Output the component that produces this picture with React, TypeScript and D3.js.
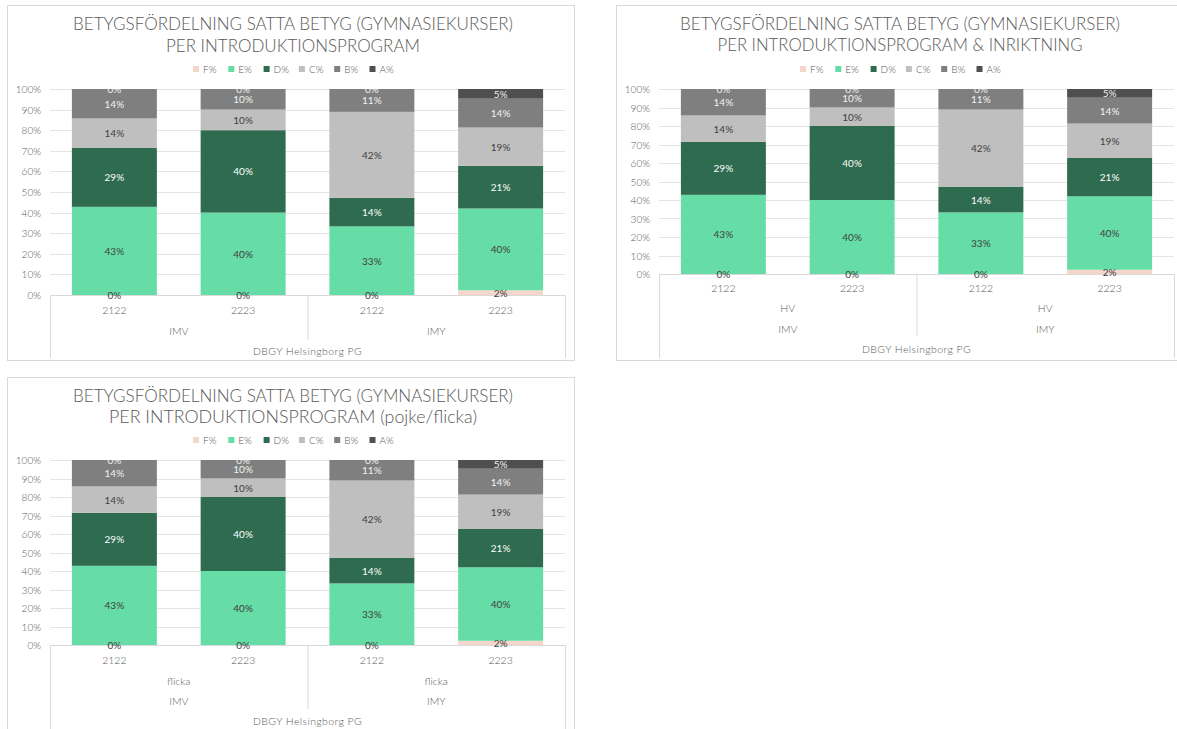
import React from "react";
import * as d3 from "d3";

const grades = ["F%", "E%", "D%", "C%", "B%", "A%"];
const gradeColors = ["#f4d6cb", "#66dda6", "#2e6b4f", "#bfbfbf", "#7f7f7f", "#4f4f4f"];
const labelColors = ["#404040", "#404040", "#ffffff", "#404040", "#f2f2f2", "#f2f2f2"];

const years = ["2122", "2223", "2122", "2223"];
const programs = ["IMV", "IMY"];
const school = "DBGY Helsingborg PG";

const fValues = [0, 0, 0, 0.023];
const eValues = [0.428, 0.4, 0.333, 0.397];
const dValues = [0.286, 0.4, 0.139, 0.207];
const cValues = [0.143, 0.1, 0.417, 0.186];
const bValues = [0.143, 0.1, 0.111, 0.14];
const aValues = [0, 0, 0, 0.047];

const titleLine1 = "BETYGSFÖRDELNING SATTA BETYG (GYMNASIEKURSER)";
const subtitles = [
  "PER INTRODUKTIONSPROGRAM",
  "PER INTRODUKTIONSPROGRAM & INRIKTNING",
  "PER INTRODUKTIONSPROGRAM (pojke/flicka)",
];
const midLabels = [null, "HV", "flicka"];

const FONT = "Lato, 'Open Sans', sans-serif";
const TXT = "#595959";
const W8 = 300;

type Cfg = {
  id: string;
  panel: { x: number; y: number; w: number; h: number };
  plot: { l: number; r: number; t: number; b: number };
  cx: number;
  titleY: [number, number];
  titleW: [number, number];
  subtitle: string;
  mid: string | null;
  legendY: number;
  yearY: number;
  midY: number;
  progY: number;
  schoolY: number;
  sepBottom: number;
  axisBottom: number;
};

const rows = years.map((yr, i) => ({
  idx: String(i),
  "F%": fValues[i],
  "E%": eValues[i],
  "D%": dValues[i],
  "C%": cValues[i],
  "B%": bValues[i],
  "A%": aValues[i],
}));

const fmt = d3.format(".0%");

function Chart({ c }: { c: Cfg }) {
  const { plot } = c;
  const x = d3
    .scaleBand<string>()
    .domain(rows.map((r) => r.idx))
    .range([plot.l, plot.r])
    .paddingInner(0.34)
    .paddingOuter(0.17);
  const y = d3.scaleLinear().domain([0, 1]).range([plot.b, plot.t]);
  const series = d3.stack<any>().keys(grades)(rows as any);
  const ticks = y.ticks(10);
  const W = plot.r - plot.l;
  const grpX = programs.map((_, g) => plot.l + (W / 2) * g + W / 4);
  const legendStart = c.cx - 100;
  const common = { fontFamily: FONT, fontWeight: W8, fill: TXT } as any;
  return (
    <g>
      <rect x={c.panel.x + 0.5} y={c.panel.y + 0.5} width={c.panel.w} height={c.panel.h} fill="#fff" stroke="#d9d9d9" />
      <text x={c.cx} y={c.titleY[0]} textAnchor="middle" dominantBaseline="central" fontSize={17} {...common} textLength={c.titleW[0]} lengthAdjust="spacingAndGlyphs">
        {titleLine1}
      </text>
      <text x={c.cx} y={c.titleY[1]} textAnchor="middle" dominantBaseline="central" fontSize={17} {...common} textLength={c.titleW[1]} lengthAdjust="spacingAndGlyphs">
        {c.subtitle}
      </text>
      {grades.map((g, i) => (
        <g key={g}>
          <rect x={legendStart + i * 35.3} y={c.legendY - 3} width={6} height={6} fill={gradeColors[i]} />
          <text x={legendStart + i * 35.3 + 10} y={c.legendY} dominantBaseline="central" fontSize={10} {...common}>
            {g}
          </text>
        </g>
      ))}
      {ticks.map((t) => (
        <g key={t}>
          <line x1={plot.l} x2={plot.r} y1={Math.round(y(t)) + 0.5} y2={Math.round(y(t)) + 0.5} stroke={t === 0 ? "#d9d9d9" : "#e4e4e4"} />
          <text x={plot.l - 9} y={y(t)} textAnchor="end" dominantBaseline="central" fontSize={10} {...common}>
            {fmt(t)}
          </text>
        </g>
      ))}
      {series.map((s, si) =>
        s.map((d: any, j: number) => (
          <rect
            key={`${si}-${j}`}
            x={x(rows[j].idx)}
            y={y(d[1])}
            width={x.bandwidth()}
            height={Math.max(0, y(d[0]) - y(d[1]))}
            fill={gradeColors[si]}
          />
        ))
      )}
      <line x1={plot.l + 0.5} x2={plot.l + 0.5} y1={plot.b} y2={c.axisBottom} stroke="#d9d9d9" />
      <line x1={plot.r + 0.5} x2={plot.r + 0.5} y1={plot.b} y2={c.axisBottom} stroke="#d9d9d9" />
      <line x1={plot.l + W / 2 + 0.5} x2={plot.l + W / 2 + 0.5} y1={plot.b} y2={c.sepBottom} stroke="#d9d9d9" />
      <clipPath id={`clip-${c.id}`}>
        <rect x={plot.l} y={plot.t} width={W} height={plot.b - plot.t + 30} />
      </clipPath>
      <g clipPath={`url(#clip-${c.id})`}>
        {series.map((s, si) =>
          s.map((d: any, j: number) => (
            <text
              key={`l${si}-${j}`}
              x={(x(rows[j].idx) as number) + x.bandwidth() / 2}
              y={y((d[0] + d[1]) / 2)}
              textAnchor="middle"
              dominantBaseline="central"
              fontSize={10}
              fontFamily={FONT}
              fontWeight={400}
              fill={labelColors[si]}
            >
              {fmt(d[1] - d[0])}
            </text>
          ))
        )}
      </g>
      {rows.map((r, j) => (
        <text key={`yr${j}`} x={(x(r.idx) as number) + x.bandwidth() / 2} y={c.yearY} textAnchor="middle" dominantBaseline="central" fontSize={10.5} {...common}>
          {years[j]}
        </text>
      ))}
      {c.mid &&
        grpX.map((gx, g) => (
          <text key={`mid${g}`} x={gx} y={c.midY} textAnchor="middle" dominantBaseline="central" fontSize={10.5} {...common}>
            {c.mid}
          </text>
        ))}
      {grpX.map((gx, g) => (
        <text key={`pg${g}`} x={gx} y={c.progY} textAnchor="middle" dominantBaseline="central" fontSize={10.5} {...common}>
          {programs[g]}
        </text>
      ))}
      <text x={plot.l + W / 2} y={c.schoolY} textAnchor="middle" dominantBaseline="central" fontSize={10.5} {...common} letterSpacing={0.4}>
        {school}
      </text>
    </g>
  );
}

const configs: Cfg[] = [
  {
    id: "c1",
    panel: { x: 7, y: 5, w: 567, h: 355 },
    plot: { l: 50, r: 565, t: 89, b: 295 },
    cx: 293,
    titleY: [23, 45],
    titleW: [440, 254],
    subtitle: subtitles[0],
    mid: midLabels[0],
    legendY: 69,
    yearY: 310,
    midY: 0,
    progY: 331,
    schoolY: 351,
    sepBottom: 340,
    axisBottom: 358,
  },
  {
    id: "c2",
    panel: { x: 616, y: 5, w: 580, h: 355 },
    plot: { l: 659, r: 1174, t: 89, b: 274 },
    cx: 900,
    titleY: [23, 44],
    titleW: [440, 365],
    subtitle: subtitles[1],
    mid: midLabels[1],
    legendY: 69,
    yearY: 288,
    midY: 308,
    progY: 329,
    schoolY: 349,
    sepBottom: 336,
    axisBottom: 358,
  },
  {
    id: "c3",
    panel: { x: 7, y: 377, w: 567, h: 400 },
    plot: { l: 50, r: 565, t: 460, b: 645 },
    cx: 293,
    titleY: [395, 416],
    titleW: [440, 368],
    subtitle: subtitles[2],
    mid: midLabels[2],
    legendY: 440,
    yearY: 660,
    midY: 681,
    progY: 701,
    schoolY: 721,
    sepBottom: 709,
    axisBottom: 740,
  },
];

export default function App() {
  return (
    <svg width={1177} height={729} style={{ position: "absolute", left: 0, top: 0, background: "#fff" }}>
      <rect width={1177} height={729} fill="#fff" />
      {configs.map((c) => (
        <Chart key={c.id} c={c} />
      ))}
    </svg>
  );
}
